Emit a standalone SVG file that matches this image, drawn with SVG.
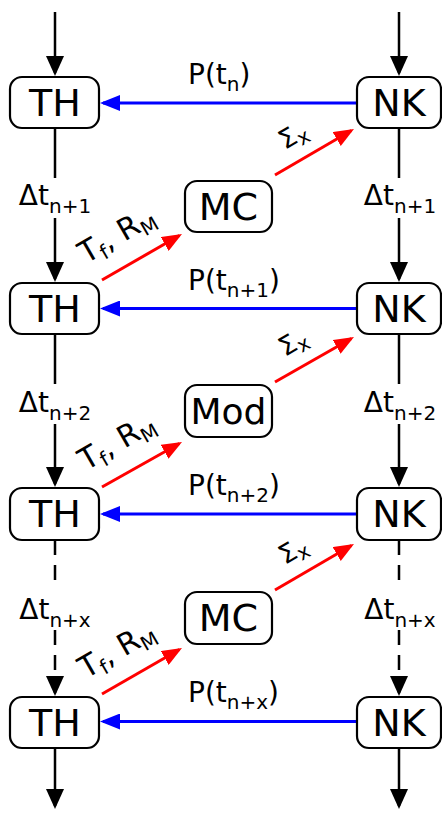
<svg xmlns="http://www.w3.org/2000/svg" width="442" height="813" viewBox="0 0 442 813">
<style>
.box{fill:#fff;stroke:#000;stroke-width:2.2}
.nt{font-family:"DejaVu Sans",Verdana,sans-serif;font-size:38px;fill:#000;text-anchor:middle}
.lb{font-family:"DejaVu Sans",Verdana,sans-serif;font-size:28px;fill:#000}
.sub{font-size:20px}
.k{stroke:#000;stroke-width:2.5;fill:none}
.kd{stroke:#000;stroke-width:2.5;fill:none;stroke-dasharray:15 10}
.b{stroke:#0000ff;stroke-width:2.8;fill:none}
.r{stroke:#ff0000;stroke-width:3;fill:none}
</style>
<defs>
<marker id="ak" viewBox="0 0 20 18" markerWidth="20" markerHeight="18" refX="17" refY="9" orient="auto" markerUnits="userSpaceOnUse"><path d="M0,0 L20,9 L0,18 z" fill="#000"/></marker>
<marker id="ab" viewBox="0 0 20 16" markerWidth="20" markerHeight="16" refX="17" refY="8" orient="auto" markerUnits="userSpaceOnUse"><path d="M0,0 L20,8 L0,16 z" fill="#0000ff"/></marker>
<marker id="ar" viewBox="0 0 20 16" markerWidth="20" markerHeight="16" refX="17" refY="8" orient="auto" markerUnits="userSpaceOnUse"><path d="M0,0 L20,8 L0,16 z" fill="#ff0000"/></marker>
</defs>
<g id="connectors">
<line class="k" x1="55" y1="12" x2="55" y2="73" marker-end="url(#ak)"/>
<line class="k" x1="55" y1="128" x2="55" y2="178"/>
<line class="k" x1="55" y1="218" x2="55" y2="279" marker-end="url(#ak)"/>
<line class="k" x1="55" y1="334" x2="55" y2="384"/>
<line class="k" x1="55" y1="424" x2="55" y2="484" marker-end="url(#ak)"/>
<line class="kd" x1="55" y1="540" x2="55" y2="590"/>
<line class="kd" x1="55" y1="630" x2="55" y2="693" marker-end="url(#ak)"/>
<line class="k" x1="55" y1="748" x2="55" y2="806" marker-end="url(#ak)"/>
<line class="k" x1="399" y1="12" x2="399" y2="73" marker-end="url(#ak)"/>
<line class="k" x1="399" y1="128" x2="399" y2="178"/>
<line class="k" x1="399" y1="218" x2="399" y2="279" marker-end="url(#ak)"/>
<line class="k" x1="399" y1="334" x2="399" y2="384"/>
<line class="k" x1="399" y1="424" x2="399" y2="484" marker-end="url(#ak)"/>
<line class="kd" x1="399" y1="540" x2="399" y2="590"/>
<line class="kd" x1="399" y1="630" x2="399" y2="693" marker-end="url(#ak)"/>
<line class="k" x1="399" y1="748" x2="399" y2="806" marker-end="url(#ak)"/>
<line class="b" x1="357" y1="103" x2="103" y2="103" marker-end="url(#ab)"/>
<line class="b" x1="357" y1="308.5" x2="103" y2="308.5" marker-end="url(#ab)"/>
<line class="b" x1="357" y1="514" x2="103" y2="514" marker-end="url(#ab)"/>
<line class="b" x1="357" y1="721.5" x2="103" y2="721.5" marker-end="url(#ab)"/>
<line class="r" x1="275" y1="175" x2="351.4" y2="130.5" marker-end="url(#ar)"/>
<line class="r" x1="275" y1="382" x2="351.4" y2="338.5" marker-end="url(#ar)"/>
<line class="r" x1="275" y1="590" x2="351.4" y2="545.5" marker-end="url(#ar)"/>
<line class="r" x1="102" y1="280" x2="179.4" y2="235.5" marker-end="url(#ar)"/>
<line class="r" x1="102" y1="487" x2="179.4" y2="443.5" marker-end="url(#ar)"/>
<line class="r" x1="102" y1="694" x2="179.4" y2="649.5" marker-end="url(#ar)"/>
<text class="lb" x="188" y="84">P(t<tspan class="sub" dy="7">n</tspan><tspan dy="-7">)</tspan></text>
<text class="lb" x="188" y="290">P(t<tspan class="sub" dy="7">n+1</tspan><tspan dy="-7">)</tspan></text>
<text class="lb" x="188" y="495">P(t<tspan class="sub" dy="7">n+2</tspan><tspan dy="-7">)</tspan></text>
<text class="lb" x="188" y="702">P(t<tspan class="sub" dy="7">n+x</tspan><tspan dy="-7">)</tspan></text>
<text class="lb" x="55" y="205" text-anchor="middle">Δt<tspan class="sub" dy="8">n+1</tspan></text>
<text class="lb" x="55" y="412" text-anchor="middle">Δt<tspan class="sub" dy="8">n+2</tspan></text>
<text class="lb" x="55" y="619" text-anchor="middle">Δt<tspan class="sub" dy="8">n+x</tspan></text>
<text class="lb" x="400" y="205" text-anchor="middle">Δt<tspan class="sub" dy="8">n+1</tspan></text>
<text class="lb" x="400" y="412" text-anchor="middle">Δt<tspan class="sub" dy="8">n+2</tspan></text>
<text class="lb" x="400" y="619" text-anchor="middle">Δt<tspan class="sub" dy="8">n+x</tspan></text>
<text class="lb" transform="translate(285,150) rotate(-30)" style="font-size:26px">Σ<tspan class="sub" dy="5">x</tspan></text>
<text class="lb" transform="translate(285,357) rotate(-30)" style="font-size:26px">Σ<tspan class="sub" dy="5">x</tspan></text>
<text class="lb" transform="translate(285,565) rotate(-30)" style="font-size:26px">Σ<tspan class="sub" dy="5">x</tspan></text>
<text class="lb" transform="translate(86,264) rotate(-30)" style="font-size:30px">T<tspan class="sub" dy="6">f</tspan><tspan dy="-6">, R</tspan><tspan class="sub" dy="6">M</tspan></text>
<text class="lb" transform="translate(86,471) rotate(-30)" style="font-size:30px">T<tspan class="sub" dy="6">f</tspan><tspan dy="-6">, R</tspan><tspan class="sub" dy="6">M</tspan></text>
<text class="lb" transform="translate(86,679) rotate(-30)" style="font-size:30px">T<tspan class="sub" dy="6">f</tspan><tspan dy="-6">, R</tspan><tspan class="sub" dy="6">M</tspan></text>
</g>
<g id="TH1"><rect class="box" x="10" y="77" width="89" height="51" rx="12"/><text class="nt" x="55" y="116">TH</text></g>
<g id="TH2"><rect class="box" x="10" y="283" width="89" height="51" rx="12"/><text class="nt" x="55" y="322">TH</text></g>
<g id="TH3"><rect class="box" x="10" y="488" width="89" height="52" rx="12"/><text class="nt" x="55" y="527">TH</text></g>
<g id="TH4"><rect class="box" x="10" y="697" width="89" height="51" rx="12"/><text class="nt" x="55" y="736">TH</text></g>
<g id="NK1"><rect class="box" x="357" y="77" width="84" height="51" rx="12"/><text class="nt" x="399" y="116">NK</text></g>
<g id="NK2"><rect class="box" x="357" y="283" width="84" height="51" rx="12"/><text class="nt" x="399" y="322">NK</text></g>
<g id="NK3"><rect class="box" x="357" y="488" width="84" height="52" rx="12"/><text class="nt" x="399" y="527">NK</text></g>
<g id="NK4"><rect class="box" x="357" y="697" width="84" height="51" rx="12"/><text class="nt" x="399" y="736">NK</text></g>
<g id="MC1"><rect class="box" x="185" y="181" width="87" height="51" rx="12"/><text class="nt" x="228.5" y="220">MC</text></g>
<g id="Mod"><rect class="box" x="185" y="385" width="87" height="52" rx="12"/><text class="nt" x="228.5" y="424" style="font-size:36px">Mod</text></g>
<g id="MC2"><rect class="box" x="185" y="592" width="87" height="52" rx="12"/><text class="nt" x="228.5" y="631">MC</text></g>
</svg>
